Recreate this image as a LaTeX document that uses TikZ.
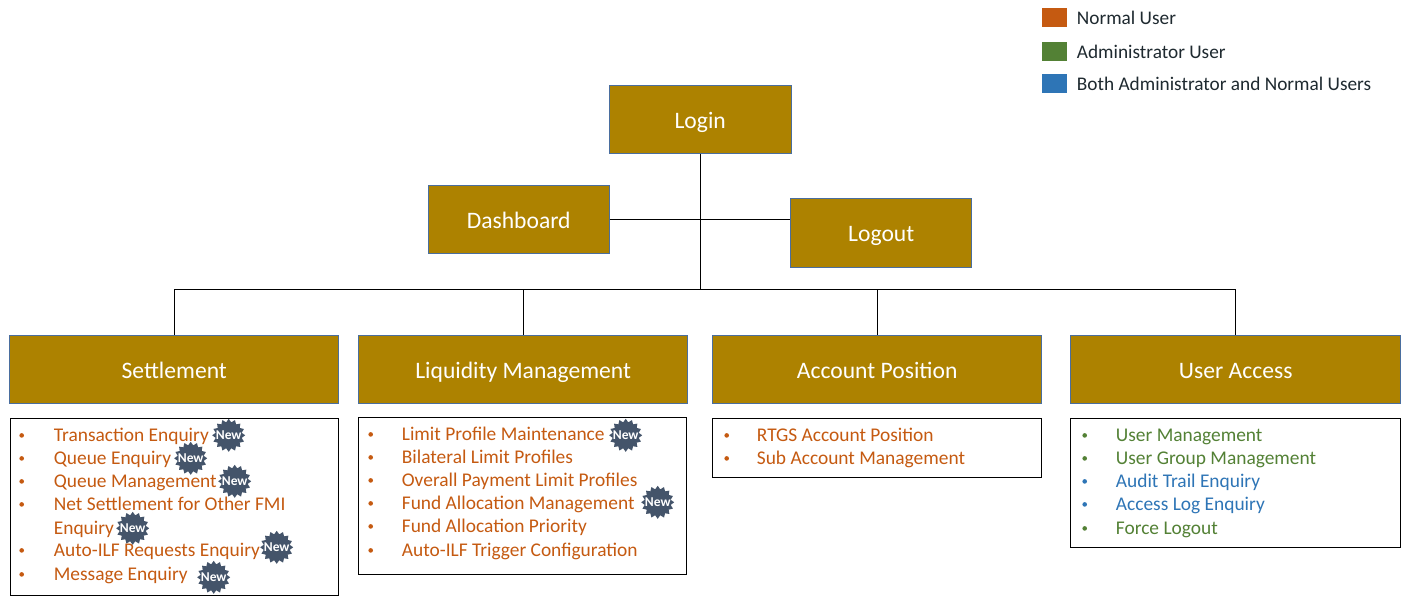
\documentclass[tikz,border=0pt]{standalone}
\usepackage{fontspec}
\setmainfont{Carlito}
\usetikzlibrary{shapes.geometric,calc}
\definecolor{gold}{HTML}{AD8200}
\definecolor{goldedge}{HTML}{4A6E9E}
\definecolor{normalc}{HTML}{C55A11}
\definecolor{adminc}{HTML}{538135}
\definecolor{bothc}{HTML}{2E75B6}
\definecolor{starc}{HTML}{44546A}
\definecolor{legtext}{HTML}{1F2A30}
\tikzset{
  x=1pt,y=-1pt,
  head/.style={draw=goldedge,line width=1pt,fill=gold,text=white,font=\fontsize{23.6}{25}\selectfont,minimum height=68pt,inner sep=0pt,text height=23pt,text depth=5pt,anchor=north west},
  listbox/.style={draw=black,line width=0.9pt,fill=white,inner sep=0pt,anchor=north west},
  conn/.style={draw=black,line width=0.9pt},
  item/.style={anchor=base west,inner sep=0pt,yshift=-0.7pt,font=\fontsize{19.4}{21}\selectfont},
  bull/.style={anchor=center,inner sep=0pt,circle,yshift=-0.7pt,minimum size=4.6pt},
  legbox/.style={anchor=north west,inner sep=0pt,minimum width=25pt,minimum height=19pt},
  legtxt/.style={anchor=base west,inner sep=0pt,yshift=-1pt,text=legtext,font=\fontsize{19.3}{21}\selectfont},
  burst/.style={star,star points=16,star point ratio=1.25,yshift=-0.6pt,fill=starc,inner sep=0pt,minimum size=33pt},
  bursttxt/.style={inner sep=0pt,yshift=-0.6pt,text=white,font=\bfseries\fontsize{13.5}{14}\selectfont},
}
\newcommand{\burstat}[3]{\node[burst] (#1) at (#2,#3) {};\node[bursttxt] (#1t) at (#2,#3) {New};}
\newcommand{\listrow}[6]{% name bulletx textx baseline colour text
  \node[bull,fill=#5] (#1b) at (#2,#4-6) {};
  \node[item,text=#5] (#1) at (#3,#4) {#6};}
\newcommand{\controw}[5]{\node[item,text=#4] (#1) at (#2,#3) {#5};}
\begin{document}
\begin{tikzpicture}
\useasboundingbox (0.3,0.3) rectangle (1408.3,595.3);
\fill[white] (0.3,0.3) rectangle (1408.3,595.3);

% heads
\node[head,minimum width=182pt] (login) at (609,85) {Login};
\node[head,minimum width=181pt] (dash) at (428,185) {Dashboard};
\node[head,minimum width=181pt,minimum height=69pt] (logout) at (790.5,198) {Logout};
\node[head,minimum width=329pt] (settle) at (9.5,335.5) {Settlement};
\node[head,minimum width=329pt] (liq) at (358.5,335.5) {Liquidity Management};
\node[head,minimum width=329pt] (acct) at (712.5,335.5) {Account Position};
\node[head,minimum width=330pt] (user) at (1070.5,335.5) {User Access};

% connectors
\coordinate (bus) at (700.5,289.5);
\draw[conn] (login.south) -- (bus);
\draw[conn] (dash.east) -- (dash.east -| logout.west);
\draw[conn] (settle.north |- bus) -- (user.north |- bus);
\draw[conn] (settle.north |- bus) -- (settle.north);
\draw[conn] (liq.north |- bus) -- (liq.north);
\draw[conn] (acct.north |- bus) -- (acct.north);
\draw[conn] (user.north |- bus) -- (user.north);

% list boxes
\node[listbox,minimum width=328pt,minimum height=177pt] (b1) at (10,418) {};
\node[listbox,minimum width=328pt,minimum height=157pt] (b2) at (358.5,417) {};
\node[listbox,minimum width=329pt,minimum height=59pt] (b3) at (712.5,418) {};
\node[listbox,minimum width=330pt,minimum height=129pt] (b4) at (1070.5,418) {};

% settlement
\listrow{a1}{22}{54}{441}{normalc}{Transaction Enquiry}
\listrow{a2}{22}{54}{464}{normalc}{Queue Enquiry}
\listrow{a3}{22}{54}{487}{normalc}{Queue Management}
\listrow{a4}{22}{54}{510}{normalc}{Net Settlement for Other FMI}
\controw{a5}{54}{534}{normalc}{Enquiry}
\listrow{a6}{22}{54}{556}{normalc}{Auto-ILF Requests Enquiry}
\listrow{a7}{22}{54}{580}{normalc}{Message Enquiry}
\burstat{s1}{229}{435}
\burstat{s2}{191}{458}
\burstat{s3}{235}{481}
\burstat{s4}{133}{528}
\burstat{s5}{277}{547}
\burstat{s6}{214}{577}

% liquidity
\listrow{l1}{371}{402}{440}{normalc}{Limit Profile Maintenance}
\listrow{l2}{371}{402}{463}{normalc}{Bilateral Limit Profiles}
\listrow{l3}{371}{402}{486}{normalc}{Overall Payment Limit Profiles}
\listrow{l4}{371}{402}{509}{normalc}{Fund Allocation Management}
\listrow{l5}{371}{402}{532}{normalc}{Fund Allocation Priority}
\listrow{l6}{371}{402}{556}{normalc}{Auto-ILF Trigger Configuration}
\burstat{s7}{626}{435}
\burstat{s8}{658}{502}

% account
\listrow{c1}{727}{757}{441}{normalc}{RTGS Account Position}
\listrow{c2}{727}{757}{464}{normalc}{Sub Account Management}

% user access
\listrow{u1}{1085}{1116}{441}{adminc}{User Management}
\listrow{u2}{1085}{1116}{464}{adminc}{User Group Management}
\listrow{u3}{1085}{1116}{487}{bothc}{Audit Trail Enquiry}
\listrow{u4}{1085}{1116}{510}{bothc}{Access Log Enquiry}
\listrow{u5}{1085}{1116}{534}{adminc}{Force Logout}

% legend
\node[legbox,fill=normalc] (k1) at (1042,8.5) {};
\node[legbox,fill=adminc] (k2) at (1042,42) {};
\node[legbox,fill=bothc] (k3) at (1042,74.5) {};
\node[legtxt] (k1t) at (1077,24) {Normal User};
\node[legtxt] (k2t) at (1077,58) {Administrator User};
\node[legtxt] (k3t) at (1077,90) {Both Administrator and Normal Users};
\end{tikzpicture}
\end{document}
